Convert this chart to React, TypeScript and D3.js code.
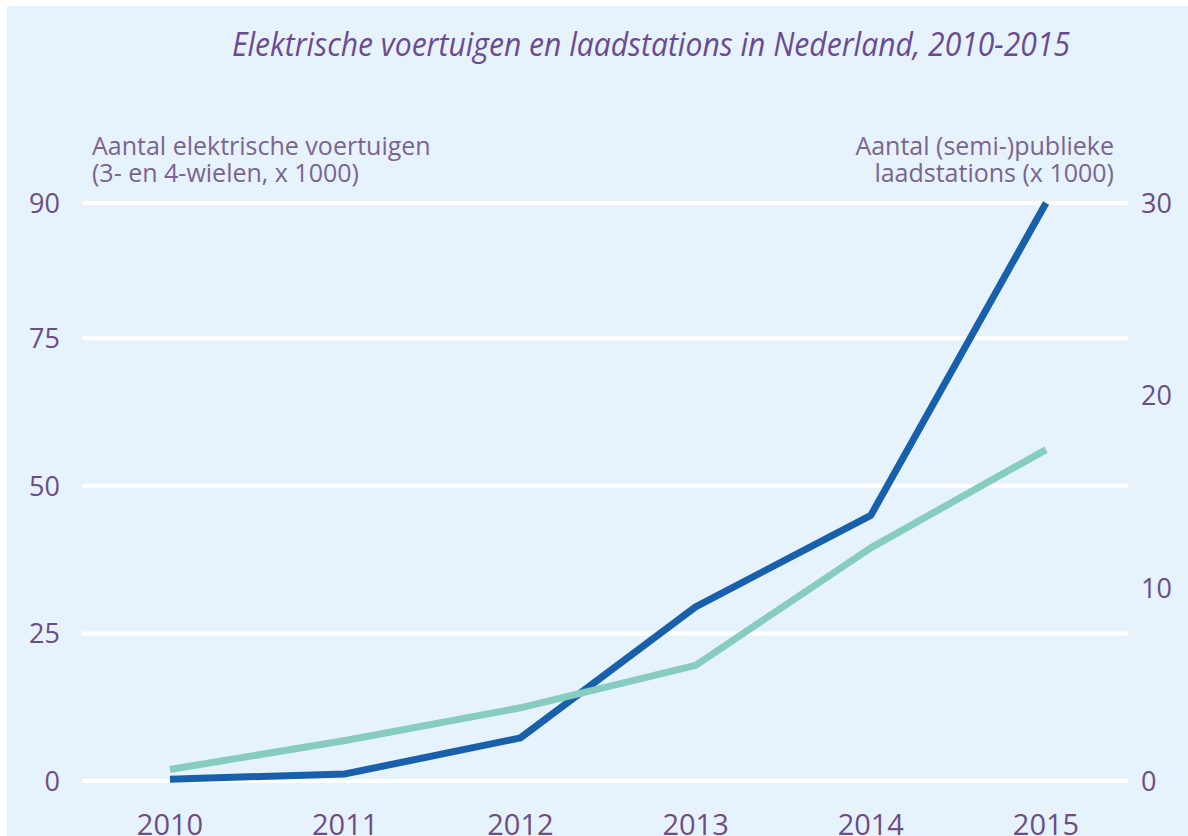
import { useEffect, useRef } from 'react';
import * as d3 from 'd3';

// aantallen x 1000
const years = ['2010', '2011', '2012', '2013', '2014', '2015'];
const voertuigen = [0.3, 1.2, 7.3, 29.5, 45, 90];
const laadstations = [0.6, 2.1, 3.8, 6.0, 12.1, 17.2];
const leftTicks = [0, 25, 50, 75, 90];
const rightTicks = [0, 10, 20, 30];

const title = 'Elektrische voertuigen en laadstations in Nederland, 2010-2015';
const leftTitle = ['Aantal elektrische voertuigen', '(3- en 4-wielen, x 1000)'];
const rightTitle = ['Aantal (semi-)publieke', 'laadstations (x 1000)'];

function App() {
  const width = 1188;
  const height = 836;
  const plotTop = 203;
  const plotBottom = 781;
  const gridLeft = 82;
  const gridRight = 1128;

  const svgRef = useRef<SVGSVGElement>(null);

  useEffect(() => {
    const svg = d3.select(svgRef.current);
    svg.selectAll('*').remove();

    const labelFont = '"Open Sans", "Noto Sans", sans-serif';
    const tickColor = '#6c4d86';
    const titleColor = '#7a6590';

    svg
      .append('rect')
      .attr('x', 7)
      .attr('y', 6)
      .attr('width', width - 7)
      .attr('height', height - 6)
      .attr('fill', '#e6f2fc');

    const x = d3.scalePoint().domain(years).range([170, 1046]);

    // left axis in the original is not linear: 0-75 evenly, then 90 on top
    const h = plotBottom - plotTop;
    const yLeft = d3
      .scaleLinear()
      .domain([0, 75, 90])
      .range([plotBottom, plotBottom - h * 0.766, plotTop]);
    const yRight = d3.scaleLinear().domain([0, 30]).range([plotBottom, plotTop]);

    // gridlines
    svg
      .append('g')
      .selectAll('line')
      .data(leftTicks)
      .join('line')
      .attr('x1', gridLeft)
      .attr('x2', gridRight)
      .attr('y1', (d) => yLeft(d))
      .attr('y2', (d) => yLeft(d))
      .attr('stroke', '#ffffff')
      .attr('stroke-width', 4);

    // left tick labels
    svg
      .append('g')
      .selectAll('text')
      .data(leftTicks)
      .join('text')
      .attr('x', 60)
      .attr('y', (d) => yLeft(d))
      .attr('dy', '0.36em')
      .attr('text-anchor', 'end')
      .attr('font-family', labelFont)
      .attr('font-size', 27)
      .attr('font-weight', 500)
      .attr('fill', tickColor)
      .text((d) => d);

    // right tick labels
    svg
      .append('g')
      .selectAll('text')
      .data(rightTicks)
      .join('text')
      .attr('x', 1141)
      .attr('y', (d) => yRight(d))
      .attr('dy', '0.36em')
      .attr('text-anchor', 'start')
      .attr('font-family', labelFont)
      .attr('font-size', 27)
      .attr('font-weight', 500)
      .attr('fill', tickColor)
      .text((d) => d);

    // year labels
    svg
      .append('g')
      .selectAll('text')
      .data(years)
      .join('text')
      .attr('x', (d) => x(d) as number)
      .attr('y', 835)
      .attr('text-anchor', 'middle')
      .attr('font-family', labelFont)
      .attr('font-size', 29)
      .attr('font-weight', 500)
      .attr('fill', tickColor)
      .text((d) => d);

    // axis titles
    svg
      .append('g')
      .selectAll('text')
      .data(leftTitle)
      .join('text')
      .attr('x', 92)
      .attr('y', (d, i) => 155 + i * 27)
      .attr('font-family', labelFont)
      .attr('font-size', 25)
      .attr('font-weight', 500)
      .attr('fill', titleColor)
      .text((d) => d);

    svg
      .append('g')
      .selectAll('text')
      .data(rightTitle)
      .join('text')
      .attr('x', 1114)
      .attr('y', (d, i) => 155 + i * 27)
      .attr('text-anchor', 'end')
      .attr('font-family', labelFont)
      .attr('font-size', 25)
      .attr('font-weight', 500)
      .attr('fill', titleColor)
      .text((d) => d);

    // title
    svg
      .append('text')
      .attr('x', 232)
      .attr('y', 56)
      .attr('font-family', labelFont)
      .attr('font-style', 'italic')
      .attr('font-size', 33)
      .attr('textLength', 838)
      .attr('lengthAdjust', 'spacingAndGlyphs')
      .attr('fill', '#6a4b92')
      .text(title);

    const lineLeft = d3
      .line<number>()
      .x((d, i) => x(years[i]) as number)
      .y((d) => yLeft(d));

    const lineRight = d3
      .line<number>()
      .x((d, i) => x(years[i]) as number)
      .y((d) => yRight(d));

    svg
      .append('path')
      .attr('d', lineLeft(voertuigen))
      .attr('fill', 'none')
      .attr('stroke', '#1860ab')
      .attr('stroke-width', 7)
      .attr('stroke-linejoin', 'round');

    svg
      .append('path')
      .attr('d', lineRight(laadstations))
      .attr('fill', 'none')
      .attr('stroke', '#86cdbf')
      .attr('stroke-width', 7)
      .attr('stroke-linejoin', 'round');
  }, []);

  return (
    <svg
      ref={svgRef}
      width={width}
      height={height}
      style={{ position: 'absolute', left: 0, top: 0, background: '#ffffff' }}
    />
  );
}

export default App;
